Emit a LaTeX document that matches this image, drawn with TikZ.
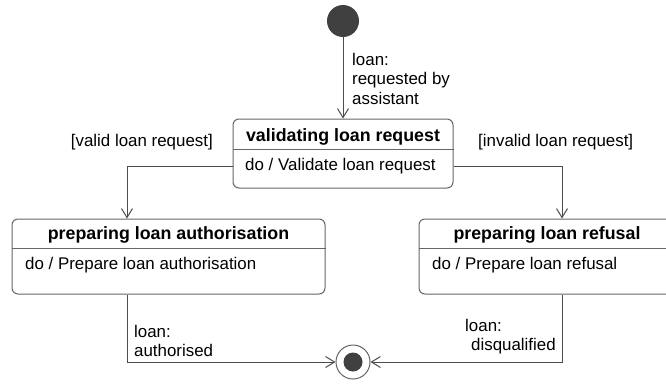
\documentclass[tikz,border=0pt]{standalone}
\usepackage{fontspec}
\setmainfont{Liberation Sans}
\usetikzlibrary{arrows.meta}

\begin{document}
\begin{tikzpicture}[
        x=1pt, y=-1pt,
        state/.style={
            rectangle,
            rounded corners=6pt,
            draw=black!60,
            fill=white,
            line width=1pt
        },
        pseudo/.style={
            circle,
            fill=black!75,
            inner sep=0pt
        },
        title/.style={
            font=\fontsize{17.8}{20}\selectfont\bfseries,
            inner sep=0pt,
            anchor=base
        },
        body/.style={
            font=\fontsize{16.9}{19.5}\selectfont,
            inner sep=0pt,
            anchor=base west
        },
        guard/.style={
            font=\fontsize{16.9}{19.5}\selectfont,
            inner sep=0pt,
            align=left
        },
        trans/.style={
            draw=black!70,
            line width=1pt,
            -{Straight Barb[length=9pt,width=11pt]}
        }
    ]

    \useasboundingbox (0,0) rectangle (666,383);
    \clip (0,0) rectangle (666,383);

    % Pseudo-states
    \node[pseudo, minimum size=32pt] (init) at (343,21) {};
    \node[circle, draw=black!60, line width=1pt, fill=white,
          minimum size=34pt, inner sep=0pt] (final) at (353,362) {};
    \node[pseudo, minimum size=19pt] (finaldot) at (final) {};

    % States
    \node[state, minimum width=220pt, minimum height=69pt] (valid)  at (343,153.5) {};
    \node[state, minimum width=313pt, minimum height=75pt] (auth)   at (168.5,256.5) {};
    \node[state, minimum width=256pt, minimum height=75pt] (refuse) at (547,256.5) {};

    \draw[draw=black!60, line width=1pt] (valid.west |- 0,149) -- (valid.east |- 0,149);
    \draw[draw=black!60, line width=1pt] (auth.west |- 0,248) -- (auth.east |- 0,248);
    \draw[draw=black!60, line width=1pt] (refuse.west |- 0,248) -- (refuse.east |- 0,248);

    \node[title] (validtitle)  at (343,141.5)   {validating loan request};
    \node[body]  (validdo)     at (245,170)     {do / Validate loan request};
    \node[title] (authtitle)   at (168.5,239.3) {preparing loan authorisation};
    \node[body]  (authdo)      at (25,269)      {do / Prepare loan authorisation};
    \node[title] (refusetitle) at (547,239.3)   {preparing loan refusal};
    \node[body]  (refusedo)    at (432,269)     {do / Prepare loan refusal};

    % Guards
    \node[guard, anchor=north west] (reqlabel)     at (352,53)    {loan:\\requested by\\assistant};
    \node[guard, anchor=base east]  (validlabel)   at (213,146.5) {[valid loan request]};
    \node[guard, anchor=base west]  (invalidlabel) at (478,146.5) {[invalid loan request]};
    \node[guard, anchor=north west] (authlabel)    at (134,325)   {loan:\\authorised};
    \node[guard, anchor=north west] (disqlabel)    at (465,319)   {loan:\\\hspace{6pt}disqualified};

    % Transitions
    \draw[trans] (init) -- (valid);
    \draw[trans] ([yshift=-13pt]valid.west) -| ([xshift=-41.5pt]auth.north);
    \draw[trans] ([yshift=-13pt]valid.east) -| ([xshift=15pt]refuse.north);
    \draw[trans] ([xshift=-41.5pt]auth.south) |- (final);
    \draw[trans] ([xshift=15pt]refuse.south) |- (final);

\end{tikzpicture}
\end{document}
